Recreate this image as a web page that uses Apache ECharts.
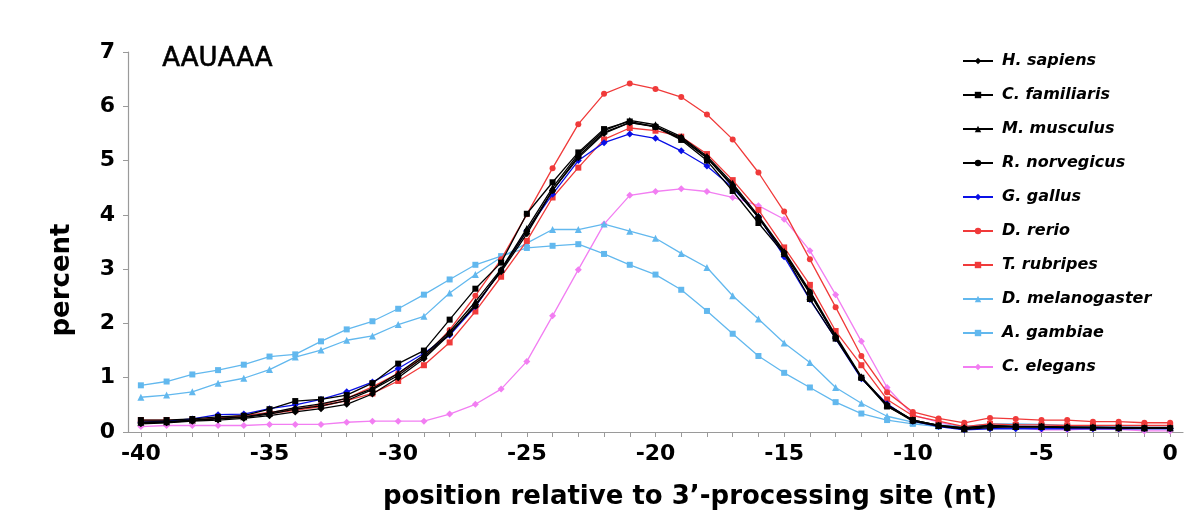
<!DOCTYPE html>
<html>
<head>
<meta charset="utf-8">
<script src="https://cdn.jsdelivr.net/npm/echarts@6/dist/echarts.min.js"></script>
<style>
html,body{margin:0;padding:0;background:#fff;}
#chart{width:1200px;height:517px;}
</style>
</head>
<body>
<div id="chart"></div>
<script>
// positions relative to the 3'-processing site
const positions = [];
for (let p = -40; p <= 0; p++) positions.push(String(p));

const yTicks = [0, 1, 2, 3, 4, 5, 6, 7];

const hSapiens = [
  0.15,0.17,0.20,0.22,0.25,0.30,0.37,0.43,0.51,0.70,
  1.00,1.35,1.80,2.35,2.95,3.65,4.45,5.05,5.50,5.70,
  5.62,5.40,5.05,4.55,3.95,3.30,2.55,1.75,1.00,0.50,
  0.22,0.12,0.08,0.12,0.10,0.10,0.09,0.08,0.08,0.07,0.07];
const cFamiliaris = [
  0.22,0.22,0.24,0.28,0.30,0.42,0.57,0.60,0.68,0.90,
  1.26,1.50,2.07,2.64,3.12,4.02,4.60,5.15,5.58,5.72,
  5.62,5.38,5.00,4.44,3.85,3.28,2.45,1.72,1.00,0.47,
  0.22,0.12,0.05,0.08,0.10,0.10,0.08,0.08,0.08,0.07,0.07];
const mMusculus = [
  0.18,0.19,0.22,0.25,0.28,0.35,0.45,0.52,0.62,0.80,
  1.08,1.42,1.85,2.40,3.00,3.75,4.50,5.12,5.55,5.74,
  5.66,5.44,5.08,4.58,3.98,3.33,2.60,1.78,1.02,0.50,
  0.22,0.12,0.07,0.12,0.10,0.10,0.09,0.09,0.08,0.08,0.08];
const rNorvegicus = [
  0.17,0.18,0.21,0.24,0.27,0.33,0.42,0.48,0.58,0.78,
  1.04,1.38,1.82,2.32,2.98,3.70,4.45,5.08,5.52,5.70,
  5.63,5.42,5.05,4.52,3.95,3.30,2.58,1.75,1.00,0.48,
  0.20,0.11,0.06,0.10,0.09,0.09,0.08,0.08,0.07,0.07,0.07];
const gGallus = [
  0.18,0.20,0.24,0.32,0.33,0.43,0.50,0.60,0.74,0.92,
  1.17,1.45,1.78,2.31,2.98,3.71,4.38,5.00,5.33,5.49,
  5.41,5.18,4.90,4.50,3.97,3.23,2.44,1.72,0.98,0.52,
  0.20,0.10,0.04,0.06,0.06,0.06,0.06,0.06,0.06,0.06,0.06];
const dRerio = [
  0.20,0.20,0.22,0.26,0.30,0.36,0.42,0.50,0.62,0.83,
  1.08,1.38,1.88,2.51,3.18,4.01,4.86,5.67,6.23,6.42,
  6.32,6.17,5.85,5.39,4.78,4.06,3.18,2.30,1.40,0.73,
  0.37,0.25,0.17,0.26,0.24,0.22,0.22,0.19,0.19,0.17,0.17];
const tRubripes = [
  0.22,0.22,0.22,0.25,0.28,0.34,0.40,0.47,0.58,0.71,
  0.94,1.23,1.65,2.22,2.86,3.52,4.32,4.87,5.39,5.60,
  5.55,5.44,5.12,4.64,4.09,3.40,2.71,1.86,1.23,0.60,
  0.30,0.20,0.10,0.15,0.13,0.13,0.12,0.12,0.12,0.12,0.12];
const dMelanogaster = [
  0.64,0.68,0.74,0.90,0.99,1.15,1.38,1.51,1.69,1.77,
  1.98,2.13,2.56,2.90,3.22,3.48,3.73,3.73,3.83,3.70,
  3.57,3.29,3.03,2.51,2.08,1.64,1.28,0.82,0.53,0.29,
  0.18,0.13,0.10,0.15,0.15,0.14,0.12,0.10,0.10,0.09,0.09];
const aGambiae = [
  0.86,0.93,1.06,1.14,1.24,1.39,1.43,1.67,1.89,2.04,
  2.27,2.53,2.81,3.08,3.24,3.39,3.43,3.46,3.28,3.08,
  2.90,2.62,2.23,1.81,1.40,1.09,0.82,0.55,0.34,0.22,
  0.15,0.10,0.08,0.12,0.12,0.11,0.10,0.09,0.09,0.08,0.08];
const cElegans = [
  0.10,0.12,0.12,0.12,0.12,0.14,0.14,0.14,0.18,0.20,
  0.20,0.20,0.33,0.51,0.79,1.30,2.14,2.99,3.83,4.36,
  4.43,4.48,4.43,4.32,4.17,3.92,3.34,2.53,1.67,0.82,
  0.31,0.18,0.08,0.12,0.08,0.04,0.04,0.06,0.05,0.02,0.02];

const speciesNames = ['H. sapiens','C. familiaris','M. musculus','R. norvegicus','G. gallus',
  'D. rerio','T. rubripes','D. melanogaster','A. gambiae','C. elegans'];
const speciesData = [hSapiens,cFamiliaris,mMusculus,rNorvegicus,gGallus,dRerio,tRubripes,dMelanogaster,aGambiae,cElegans];
const speciesColors = ['#000000','#000000','#000000','#000000','#0a10e6',
  '#f03a3a','#f03a3a','#62b8ee','#62b8ee','#f27ef2'];
const speciesSymbols = ['diamond','rect','triangle','circle','diamond',
  'circle','rect','triangle','rect','diamond'];
const symbolSizes = [7,6,7,6,7,6,6,7,6,7];
const zOrder = [9,9,9,9,8,7,7,6,6,5];

const FONT = 'DejaVu Sans';

const chart = echarts.init(document.getElementById('chart'), null, {renderer:'canvas'});

const series = speciesNames.map((name, i) => ({
  name: name,
  type: 'line',
  data: speciesData[i],
  symbol: speciesSymbols[i],
  symbolSize: symbolSizes[i],
  showAllSymbol: true,
  z: zOrder[i],
  lineStyle: {color: speciesColors[i], width: 1.3},
  itemStyle: {color: speciesColors[i], borderWidth: 0},
  emphasis: {disabled: true},
  animation: false
}));

chart.setOption({
  animation: false,
  backgroundColor: '#ffffff',
  grid: {left: 128, right: 17, top: 52, bottom: 85, containLabel: false},
  xAxis: {
    type: 'category',
    data: positions,
    boundaryGap: true,
    axisLine: {show: true, lineStyle: {color: '#9a9a9a', width: 1.2}},
    axisTick: {show: true, interval: 0, alignWithLabel: true, length: 5, lineStyle: {color: '#9a9a9a'}},
    axisLabel: {interval: 4, margin: 11, color: '#000', fontFamily: FONT, fontWeight: 'bold', fontSize: 22},
    splitLine: {show: false}
  },
  yAxis: {
    type: 'value',
    min: yTicks[0],
    max: yTicks[yTicks.length - 1],
    interval: 1,
    axisLine: {show: true, lineStyle: {color: '#9a9a9a', width: 1.2}},
    axisTick: {show: true, length: 5, lineStyle: {color: '#9a9a9a'}},
    axisLabel: {margin: 13, color: '#000', fontFamily: FONT, fontWeight: 'bold', fontSize: 22},
    splitLine: {show: false}
  },
  legend: {
    orient: 'vertical',
    left: 962,
    top: 53,
    padding: 0,
    itemWidth: 30,
    itemHeight: 8,
    itemGap: 18,
    data: speciesNames,
    textStyle: {fontFamily: FONT, fontWeight: 'bold', fontStyle: 'italic', fontSize: 16, color: '#000',
      padding: [0, 0, 0, 4]}
  },
  graphic: [
    {type: 'text', left: 162, top: 46,
     style: {text: 'AAUAAA', fontFamily: FONT, fontSize: 26, fontWeight: 'normal', fill: '#000',
       stroke: '#000', lineWidth: 0.6}},
    {type: 'text', x: 690, y: 497,
     style: {text: 'position relative to 3\u2019-processing site (nt)', fontFamily: FONT, fontSize: 26,
       fontWeight: 'bold', fill: '#000', align: 'center', verticalAlign: 'middle'}},
    {type: 'text', x: 62, y: 280, rotation: Math.PI / 2,
     style: {text: 'percent', fontFamily: FONT, fontSize: 26, fontWeight: 'bold', fill: '#000',
       align: 'center', verticalAlign: 'middle'}}
  ],
  series: series
});
</script>
</body>
</html>
